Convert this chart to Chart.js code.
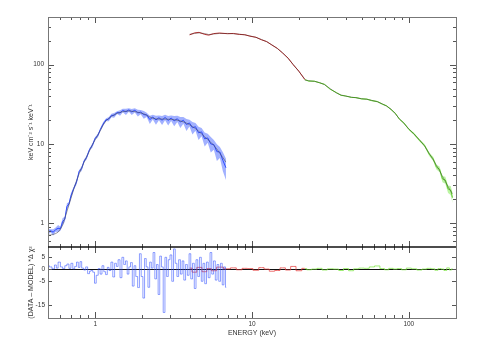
<!DOCTYPE html>
<html>
<head>
<meta charset="utf-8">
<script src="https://cdn.jsdelivr.net/npm/chart.js@4.4.1/dist/chart.umd.min.js"></script>
<style>body{margin:0;background:#fff}</style>
</head>
<body>
<canvas id="spec" width="480" height="354"></canvas>
<script>
// soft band (blue), keV
const blueE = [0.50,0.52,0.54,0.56,0.58,0.60,0.62,0.64,0.66,0.68,
  0.70,0.73,0.76,0.79,0.82,0.85,0.88,0.92,0.96,1.00,
  1.04,1.08,1.12,1.17,1.22,1.27,1.32,1.38,1.44,1.50,
  1.57,1.64,1.71,1.79,1.87,1.95,2.04,2.13,2.23,2.33,
  2.44,2.55,2.67,2.79,2.92,3.05,3.19,3.34,3.49,3.65,
  3.82,3.99,4.17,4.36,4.56,4.77,4.99,5.22,5.46,5.71,
  5.97,6.24,6.52,6.82]
const blueData = [0.78,0.80,0.77,0.83,0.86,0.85,1.05,1.12,1.62,1.75,
  2.2,2.75,3.3,4.5,4.9,6.1,6.7,8.5,9.6,11.8,
  12.8,15.3,17.6,20.1,20.6,22.9,23.0,24.9,24.6,26.4,
  25.5,26.9,25.4,26.6,24.6,25.2,23.4,23.3,20.3,21.8,
  20.1,21.4,19.9,21.6,19.8,21.2,19.6,20.8,18.9,19.9,
  17.6,18.4,16.0,16.5,13.8,14.2,11.6,11.9,10.0,9.8,
  8.0,7.9,6.2,5.0]
const blueErr = [0.08,0.05,0.09,0.06,0.10,0.06,0.11,0.07,0.10,0.05,
  0.08,0.05,0.07,0.04,0.07,0.04,0.06,0.04,0.06,0.04,
  0.06,0.04,0.06,0.04,0.06,0.05,0.07,0.04,0.08,0.05,
  0.09,0.05,0.09,0.06,0.10,0.06,0.11,0.06,0.12,0.07,
  0.13,0.07,0.13,0.08,0.14,0.08,0.15,0.09,0.16,0.10,
  0.17,0.10,0.18,0.11,0.19,0.12,0.20,0.13,0.22,0.14,
  0.24,0.16,0.27,0.30]
const blueModel = [0.70,0.71,0.72,0.74,0.77,0.84,0.95,1.15,1.40,1.70,
  2.05,2.7,3.4,4.2,5.0,5.9,6.8,8.2,9.8,11.3,
  13.0,14.8,17.2,19.5,21.0,22.3,23.3,24.3,25.0,25.5,
  25.9,26.0,25.9,25.6,25.1,24.6,24.0,23.0,21.9,21.1,
  20.7,20.6,20.6,20.6,20.5,20.4,20.2,19.9,19.5,19.0,
  18.3,17.5,16.6,15.6,14.5,13.4,12.3,11.4,10.5,9.6,
  8.6,7.6,6.7,5.9]

// middle band (red)
const redE = [4.0,4.3,4.6,5.0,5.3,5.7,6.2,7.0,7.6,8.3,9.0,9.7,10.6,11.5,12.4,13.4,14.5,15.7,17.0,18.3,19.9,21.7]
const redData = [238,252,256,241,236,247,251,246,248,241,239,229,222,206,196,177,161,140,121,100,83,65]
const redModel = [242,248,252,247,240,244,248,248,246,243,238,231,221,208,195,178,160,141,120,101,82,66]
const redRes = [0.5,-1.2,0.8,-1.0,0.3,-0.6,0.9,0.2,0.6,-0.2,0.4,0.3,-0.4,0.7,0.1,-0.8,-0.5,0.6,-0.3,1.2,-0.6,0.4]

// hard band (green)
const greenE = [21.7,23,25,27,29,31.5,34.5,37,39.7,43,46,50,54,58,63,68,72,77,82,87,
  93,100,108,117,126,135,143,150,157,164,171,178,185,190]
const greenData = [65,62,62,59,56.5,49,44.5,41,40.3,38.6,38.5,37,36.8,35.2,34.3,31.6,30.4,27.2,24.4,20.6,
  18.4,15.3,13.4,11.1,9.6,7.4,6.5,5.1,4.8,3.6,3.5,2.7,2.6,2.1]
const greenErr = [0.01,0.01,0.01,0.01,0.01,0.01,0.01,0.01,0.01,0.01,0.015,0.015,0.015,0.015,0.015,0.015,0.015,0.015,0.015,0.015,
  0.02,0.02,0.03,0.03,0.04,0.05,0.06,0.07,0.08,0.09,0.10,0.11,0.13,0.15]
const greenModel = [64,63,61.5,59.5,56,50,44,41.5,40,39,38.2,37.3,36.5,35.5,34,32,30,27.5,24,20.8,
  18.2,15.5,13.2,11.3,9.4,7.6,6.3,5.4,4.6,3.9,3.35,2.9,2.55,2.35]
const greenRes = [0.3,-0.2,0.1,0.4,-0.3,0.2,0.1,-0.5,0.3,-0.6,0.2,0.5,0.4,1.0,1.4,0.3,-0.2,0.4,0.1,0.3,
  -0.2,0.5,0.2,-0.3,0.1,0.4,0.2,-0.4,0.3,0.1,-0.5,0.6,-0.3,0.2]

// blue residuals (finer bins)
const blueResE = [0.50,0.52,0.54,0.56,0.57,0.59,0.61,0.63,0.65,0.67,
  0.69,0.71,0.73,0.75,0.77,0.79,0.81,0.83,0.86,0.88,
  0.91,0.93,0.95,0.98,1.00,1.03,1.06,1.09,1.12,1.15,
  1.18,1.21,1.24,1.28,1.31,1.35,1.38,1.42,1.46,1.50,
  1.54,1.58,1.62,1.66,1.70,1.75,1.79,1.84,1.89,1.94,
  1.99,2.04,2.09,2.14,2.20,2.25,2.31,2.37,2.43,2.49,
  2.55,2.61,2.68,2.75,2.82,2.89,2.96,3.04,3.12,3.20,
  3.28,3.36,3.45,3.54,3.63,3.72,3.82,3.92,4.02,4.12,
  4.23,4.34,4.45,4.57,4.69,4.81,4.93,5.06,5.19,5.33,
  5.47,5.61,5.76,5.91,6.06,6.22,6.38,6.54,6.70,6.85]
const blueRes = [1.5,1.0,0.2,1.8,0.5,3.0,1.0,0.3,1.5,2.2,
  0.4,2.5,0.2,1.2,3.0,0.8,3.2,0.5,-0.3,1.0,
  -1.8,-0.8,-0.5,-1.2,-5.8,-2.5,0.3,-2.0,1.5,-1.0,
  -2.2,0.8,-0.5,3.0,-3.2,2.5,1.2,4.0,-3.5,5.0,
  2.0,3.5,-2.0,1.0,2.8,-7.0,1.5,-3.0,-7.6,6.5,
  -3.0,-12.0,4.5,1.0,-7.5,3.0,0.5,7.0,-4.0,2.0,
  -10.5,5.5,1.0,-18.0,5.0,-3.0,4.0,6.0,-5.0,8.5,
  2.5,-3.0,4.0,-2.0,3.5,-4.5,2.0,-2.5,6.5,-4.0,
  2.5,-8.0,4.0,-3.0,5.0,-5.0,2.5,-6.0,3.0,-3.5,
  7.0,-2.0,3.5,-4.5,2.0,-5.0,2.5,-6.5,1.0,-7.5]

// axis ticks
const xMajor = [1, 10, 100]
const xMinor = [0.6,0.7,0.8,0.9,2,3,4,5,6,7,8,9,20,30,40,50,60,70,80,90]
const yMajor = [1, 10, 100]
const yMinor = [0.6,0.7,0.8,0.9,2,3,4,5,6,7,8,9,20,30,40,50,60,70,80,90,200,300,400]
const resTicks = [5, 0, -5, -15]

const pts = (xs, ys) => xs.map((x, i) => ({x: x, y: ys[i]}))
const band = (xs, ys, err, s) => xs.map((x, i) => ({x: x, y: ys[i] * (1 + s * err[i])}))

const line = (data, color, extra) => Object.assign({
  data: data, borderColor: color, borderWidth: 1, pointRadius: 0, tension: 0, fill: false, yAxisID: 'y'
}, extra || {})

const frame = {
  id: 'frame',
  beforeDatasetsDraw(chart) {
    const {ctx, scales: {x, yr}} = chart
    const y0 = Math.round(yr.getPixelForValue(0)) + 0.5
    ctx.save()
    ctx.strokeStyle = '#111'
    ctx.lineWidth = 1
    ctx.beginPath(); ctx.moveTo(x.left, y0); ctx.lineTo(x.right, y0); ctx.stroke()
    ctx.restore()
  },
  afterDraw(chart) {
    const {ctx, scales: {x, y, yr}} = chart
    const L = x.left, R = x.right, T = y.top, M = y.bottom, B = yr.bottom
    const seg = (x1, y1, x2, y2) => { ctx.beginPath(); ctx.moveTo(x1, y1); ctx.lineTo(x2, y2); ctx.stroke() }
    ctx.save()
    ctx.lineWidth = 1
    ctx.strokeStyle = '#555'
    xMajor.concat(xMinor).forEach(v => {
      const px = Math.round(x.getPixelForValue(v)) + 0.5
      const len = xMajor.includes(v) ? 6 : 3
      seg(px, T, px, T + len); seg(px, M, px, M - len)
      seg(px, M, px, M + len); seg(px, B, px, B - len)
    })
    yMajor.concat(yMinor).forEach(v => {
      const py = Math.round(y.getPixelForValue(v)) + 0.5
      const len = yMajor.includes(v) ? 6 : 3
      seg(L, py, L + len, py); seg(R, py, R - len, py)
    })
    resTicks.forEach(v => {
      const py = Math.round(yr.getPixelForValue(v)) + 0.5
      seg(L, py, L + 4, py); seg(R, py, R - 4, py)
    })
    ctx.strokeStyle = '#777'
    ctx.strokeRect(Math.round(L) + 0.5, Math.round(T) + 0.5, Math.round(R - L), Math.round(B - T))
    ctx.strokeStyle = '#111'
    ctx.lineWidth = 1.5
    seg(L, M, R, M)
    ctx.restore()
  }
}

Chart.defaults.font.family = "'Liberation Sans', Arial, sans-serif"
Chart.defaults.color = '#333'

const ctx = document.getElementById('spec').getContext('2d')
const chart = new Chart(ctx, {
  type: 'line',
  data: {
    datasets: [
      line(pts(blueE, blueModel), 'rgba(80,80,90,0.75)', {order: 0, borderWidth: 0.8}),
      line(pts(redE, redModel), 'rgba(70,40,40,0.6)', {order: 0, borderWidth: 0.8}),
      line(pts(greenE, greenModel), 'rgba(50,70,40,0.6)', {order: 0, borderWidth: 0.8}),
      line(pts(blueE, blueData), 'rgb(45,75,255)', {order: 1, borderWidth: 1}),
      line(pts(redE, redData), 'rgb(190,50,50)', {order: 1, borderWidth: 1}),
      line(pts(greenE, greenData), 'rgb(100,200,50)', {order: 1, borderWidth: 1}),
      line(band(blueE, blueData, blueErr, -1), 'rgba(0,0,0,0)', {order: 2, borderWidth: 0}),
      line(band(blueE, blueData, blueErr, 1), 'rgba(0,0,0,0)', {order: 2, borderWidth: 0, fill: '-1', backgroundColor: 'rgba(70,100,255,0.5)'}),
      line(band(greenE, greenData, greenErr, -1), 'rgba(0,0,0,0)', {order: 2, borderWidth: 0}),
      line(band(greenE, greenData, greenErr, 1), 'rgba(0,0,0,0)', {order: 2, borderWidth: 0, fill: '-1', backgroundColor: 'rgba(120,235,70,0.5)'}),
      line(pts(blueResE, blueRes), 'rgba(50,80,255,0.7)', {order: 1, yAxisID: 'yr', stepped: 'middle', borderWidth: 0.8}),
      line(pts(redE, redRes), 'rgba(230,60,60,0.9)', {order: 1, yAxisID: 'yr', stepped: 'middle', borderWidth: 0.8}),
      line(pts(greenE, greenRes), 'rgba(120,230,60,0.9)', {order: 1, yAxisID: 'yr', stepped: 'middle', borderWidth: 0.8})
    ]
  },
  options: {
    responsive: false,
    animation: false,
    layout: {padding: {top: 17, right: 24, left: 0, bottom: 0}},
    plugins: {legend: {display: false}, tooltip: {enabled: false}},
    scales: {
      x: {
        type: 'logarithmic', min: 0.5, max: 200, position: 'bottom',
        afterBuildTicks: s => { s.ticks = xMajor.map(v => ({value: v})) },
        afterFit: s => { s.height = 36 },
        grid: {display: false, drawTicks: false}, border: {display: false},
        ticks: {padding: 2, font: {size: 6.5}, maxRotation: 0, autoSkip: false, callback: v => String(v)},
        title: {display: true, text: 'ENERGY (keV)', font: {size: 7}, padding: {top: 0, bottom: 17}}
      },
      yr: {
        type: 'linear', min: -20.3, max: 9.3, position: 'left', stack: 'panels', stackWeight: 71,
        afterBuildTicks: s => { s.ticks = resTicks.map(v => ({value: v})) },
        afterFit: s => { s.width = 48 },
        grid: {display: false, drawTicks: false}, border: {display: false},
        ticks: {padding: 3, font: {size: 6.5}, callback: v => String(v)},
        title: {display: true, text: '(DATA \u2013 MODEL) *\u0394 \u03c7\u00b2', font: {size: 7}, padding: {top: 27, bottom: 0}}
      },
      y: {
        type: 'logarithmic', min: 0.5, max: 400, position: 'left', stack: 'panels', stackWeight: 230,
        afterBuildTicks: s => { s.ticks = yMajor.map(v => ({value: v})) },
        afterFit: s => { s.width = 48 },
        grid: {display: false, drawTicks: false}, border: {display: false},
        ticks: {padding: 4, font: {size: 6.5}, callback: v => String(v)},
        title: {display: true, text: 'keV cm\u207b\u00b2 s\u207b\u00b9 keV\u207b\u00b9', font: {size: 7}, padding: {top: 27, bottom: 0}}
      }
    }
  },
  plugins: [frame]
})
</script>
</body>
</html>
